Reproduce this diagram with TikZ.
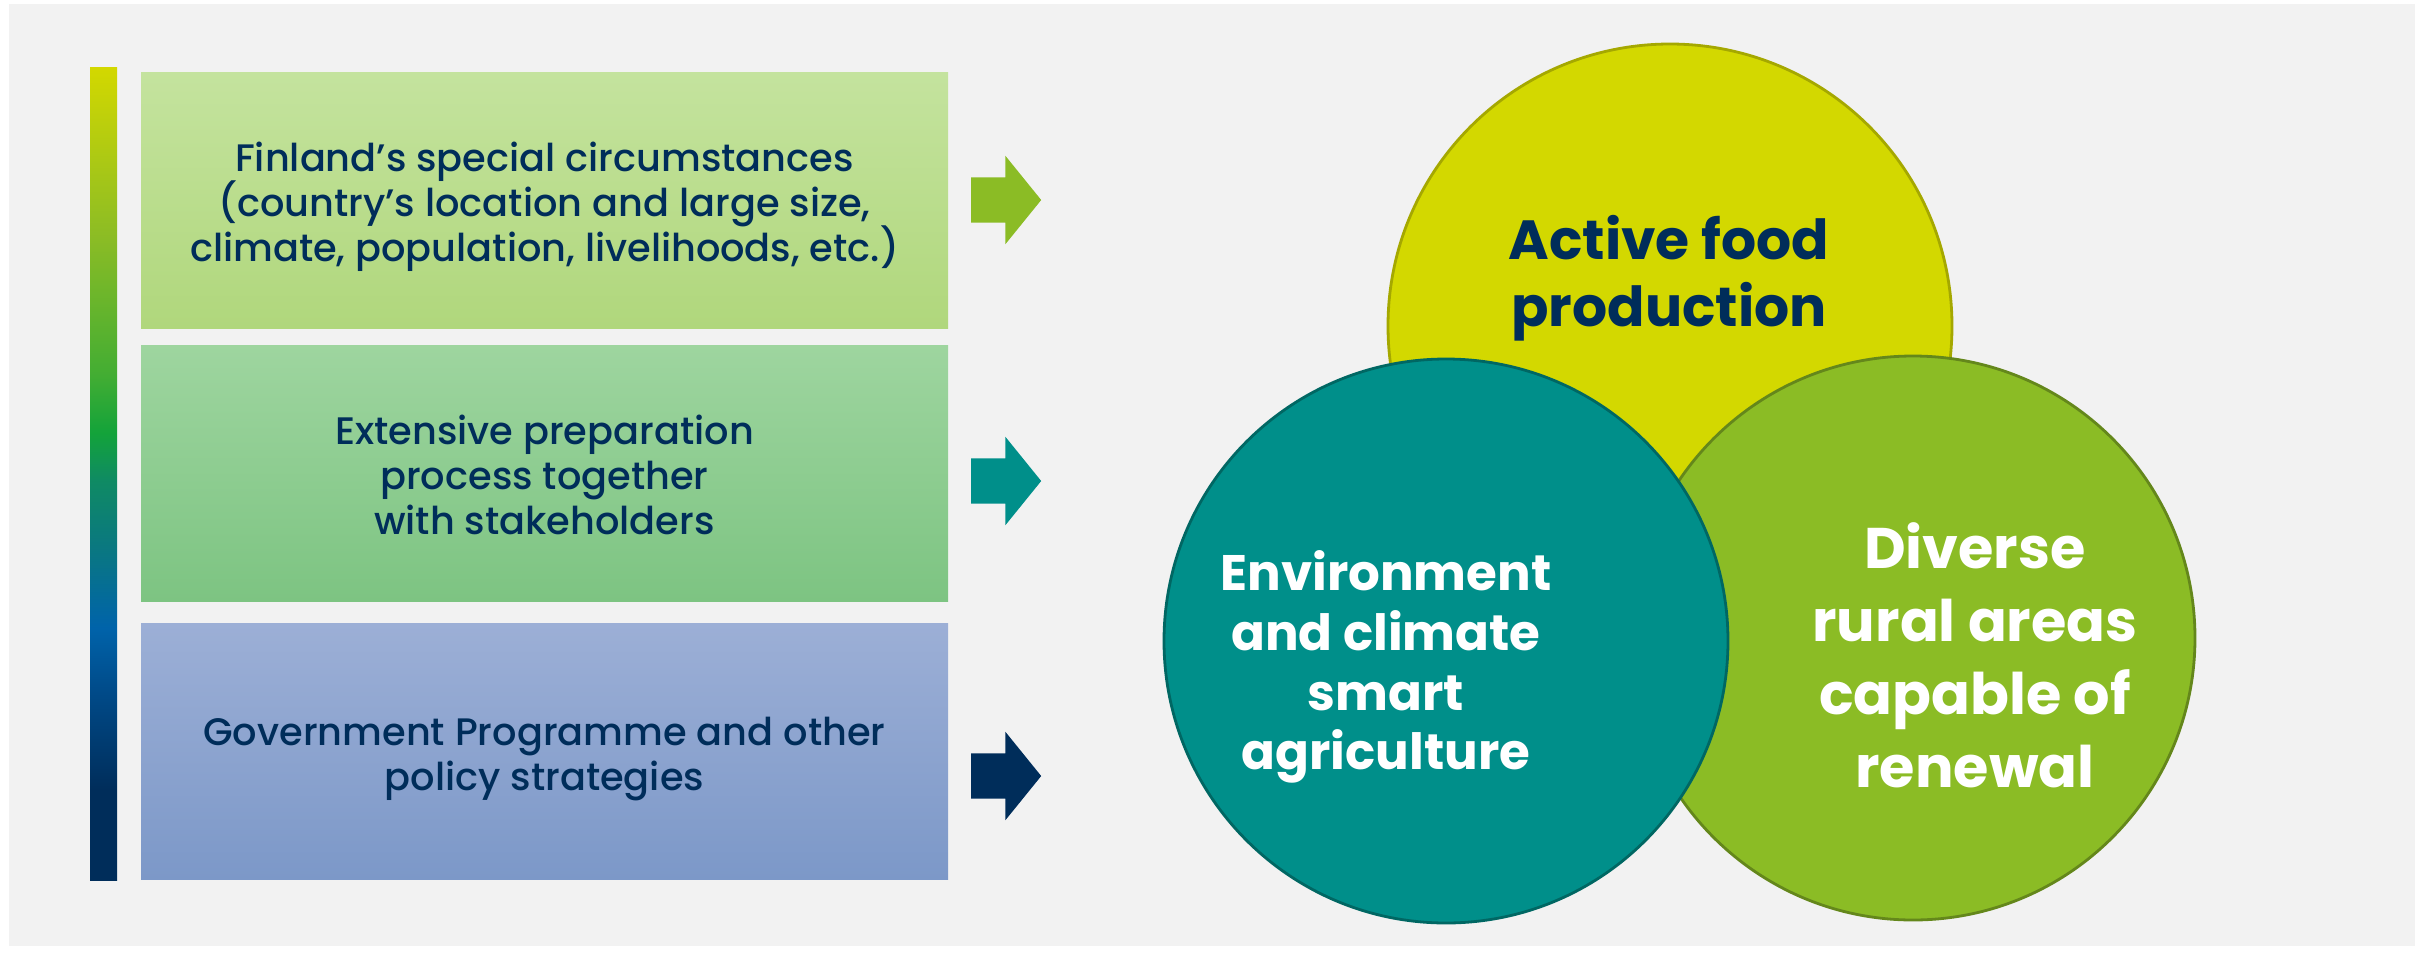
\documentclass[tikz,border=0pt]{standalone}
\usepackage{fontspec}
\setmainfont{Poppins}
\newfontfamily\medfont{Poppins}[UprightFont=* Medium]
\usetikzlibrary{shapes.arrows}
\newcommand\tightlines{\lineskiplimit=-10pt\relax}
\definecolor{navy}{HTML}{002D5A}
\definecolor{panelgray}{HTML}{F2F2F2}
\definecolor{limeyellow}{HTML}{D3D800}
\definecolor{leafgreen}{HTML}{8BBC25}
\definecolor{seateal}{HTML}{008F8A}
\definecolor{meadow}{HTML}{42AD33}
\definecolor{grassgreen}{HTML}{13A33A}
\definecolor{pinegreen}{HTML}{0F8A64}
\definecolor{duskteal}{HTML}{0A7880}
\definecolor{midblue}{HTML}{0063AA}
\definecolor{deepblue}{HTML}{004A88}
\definecolor{limetop}{HTML}{C4E39E}
\definecolor{limebot}{HTML}{B0D77C}
\definecolor{minttop}{HTML}{9ED59F}
\definecolor{mintbot}{HTML}{7DC482}
\definecolor{skytop}{HTML}{9CAFD6}
\definecolor{skybot}{HTML}{7C98C8}
% TikZ fits the 25bp--75bp band of a shading to the path
\pgfdeclareverticalshading{barshade}{100bp}{color(0bp)=(navy); color(30.5bp)=(navy);
  color(36.5bp)=(deepblue); color(40.5bp)=(midblue); color(45.5bp)=(duskteal);
  color(49.5bp)=(pinegreen); color(52.5bp)=(grassgreen); color(56bp)=(meadow);
  color(64.5bp)=(leafgreen); color(75bp)=(limeyellow); color(100bp)=(limeyellow)}
\begin{document}
\begin{tikzpicture}[x=0.1mm, y=-0.1mm,
  factor/.style={rectangle, minimum width=80.7mm, minimum height=25.6mm, inner sep=0},
  factortext/.style={align=center, text=navy, inner sep=0,
                     font={\medfont\fontsize{10.9}{12.8}\selectfont\tightlines}},
  feed/.style={single arrow, minimum height=7mm, inner xsep=0, inner ysep=2.2mm,
               single arrow head extend=2.15mm, single arrow tip angle=102},
  goal/.style={circle, minimum size=56.4mm, inner sep=0, line width=0.28mm},
  goaltext/.style 2 args={align=center,
                          font={\bfseries\fontsize{#1}{#2}\selectfont\tightlines}},
]
\fill[white] (0,0) rectangle (2433,954);
\fill[panelgray] (9,4) rectangle (2415,946);
\node[rectangle, minimum width=2.7mm, minimum height=81.3mm, inner sep=0, shading=barshade] (scale) at (103.5,473.5) {};
\node[factor, top color=limetop, bottom color=limebot] (f1) at (544.5,200) {};
\node[factor, top color=minttop, bottom color=mintbot] (f2) at (544.5,473) {};
\node[factor, top color=skytop, bottom color=skybot] (f3) at (544.5,751.5) {};
\node[factortext] (f1txt) at (544.5,206.5)
  {Finland’s special circumstances\\(country’s location and large size,\\climate, population, livelihoods, etc.)};
\node[factortext] (f2txt) at (544.5,475)
  {Extensive preparation\\process together\\with stakeholders};
\node[factortext] (f3txt) at (544.5,759)
  {Government Programme and other\\policy strategies};
\node[feed, fill=leafgreen] (a1) at (997,200) {};
\node[feed, fill=seateal] (a2) at (997,481) {};
\node[feed, fill=navy] (a3) at (997,776) {};
\node[goal, fill=limeyellow, draw=limeyellow!78!black] (food) at (1670,326) {};
\node[goal, fill=leafgreen, draw=leafgreen!72!black] (rural) at (1913,638) {};
\node[goal, fill=seateal, draw=seateal!72!black] (env) at (1446,641) {};
\node[goaltext={15.7}{19}, text=navy] (foodtxt) at (1669,278) {Active food\\production};
\node[goaltext={14.2}{17}, text=white] (envtxt) at (1386,667) {Environment\\and climate\\smart\\agriculture};
\node[goaltext={16.3}{20.8}, text=white] (ruraltxt) at (1975,655) {Diverse\\rural areas\\capable of\\renewal};
\end{tikzpicture}
\end{document}
